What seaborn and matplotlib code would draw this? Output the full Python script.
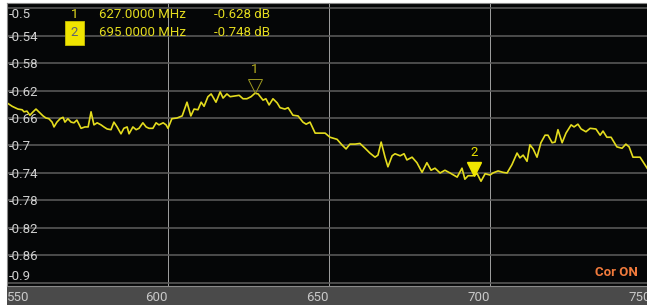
import matplotlib
matplotlib.use("Agg")
import matplotlib.pyplot as plt
from matplotlib.patches import Rectangle
from matplotlib.transforms import offset_copy
import seaborn as sns

# trace (MHz, dB)
freq = [550.0, 551.6, 552.5, 553.4, 554.7, 555.3, 556.2, 557.1, 558.1, 559.0,
        559.9, 561.2, 562.1, 563.0, 564.0, 564.6, 565.5, 566.5, 567.4, 568.0,
        568.9, 569.9, 570.8, 571.7, 573.0, 574.2, 575.2, 576.1, 577.0, 578.0,
        579.2, 580.1, 581.1, 582.3, 583.2, 584.2, 585.4, 586.3, 587.3, 587.9,
        589.1, 590.1, 591.0, 592.2, 593.2, 594.1, 595.3, 596.3, 597.2, 598.5,
        599.4, 600.0, 601.2, 602.8, 604.4, 605.9, 607.1, 608.1, 609.3, 610.3,
        611.2, 612.4, 613.4, 614.9, 616.2, 617.1, 618.3, 619.3, 620.8, 622.1,
        623.3, 624.5, 625.8, 627.0, 628.0, 629.5, 630.4, 631.4, 632.6, 633.9,
        634.8, 636.3, 637.3, 638.8, 640.4, 641.9, 642.9, 644.1, 645.7, 647.2,
        648.8, 650.3, 652.5, 654.0, 655.3, 656.5, 658.1, 659.6, 661.2, 662.7,
        664.3, 665.2, 666.2, 667.4, 668.3, 669.6, 670.5, 672.1, 673.3, 674.2,
        675.8, 677.3, 678.9, 680.4, 681.7, 682.9, 684.5, 686.0, 687.6, 689.8,
        691.3, 692.2, 693.2, 694.7, 696.0, 697.2, 698.5, 700.0, 700.9, 702.5,
        704.0, 705.3, 706.8, 708.4, 709.3, 710.3, 711.5, 712.4, 713.4, 714.6,
        715.8, 717.1, 718.0, 719.3, 720.2, 721.1, 722.4, 723.6, 725.2, 726.1,
        727.3, 728.3, 729.8, 731.1, 732.9, 734.2, 735.1, 736.3, 737.6, 739.4,
        741.0, 742.2, 743.2, 744.4, 746.6, 748.8]
db = [-0.638, -0.643, -0.645, -0.647, -0.648, -0.651, -0.650, -0.656, -0.651, -0.647,
      -0.651, -0.657, -0.660, -0.661, -0.666, -0.673, -0.666, -0.661, -0.659, -0.666,
      -0.661, -0.666, -0.667, -0.663, -0.675, -0.673, -0.673, -0.651, -0.670, -0.667,
      -0.670, -0.673, -0.676, -0.677, -0.666, -0.673, -0.683, -0.675, -0.673, -0.683,
      -0.673, -0.677, -0.675, -0.667, -0.673, -0.675, -0.675, -0.667, -0.670, -0.667,
      -0.670, -0.675, -0.661, -0.660, -0.657, -0.637, -0.657, -0.647, -0.648, -0.637,
      -0.643, -0.629, -0.625, -0.637, -0.622, -0.631, -0.625, -0.629, -0.628, -0.627,
      -0.632, -0.632, -0.629, -0.624, -0.625, -0.634, -0.632, -0.641, -0.632, -0.638,
      -0.645, -0.647, -0.645, -0.656, -0.657, -0.666, -0.669, -0.666, -0.682, -0.682,
      -0.682, -0.688, -0.691, -0.699, -0.705, -0.698, -0.698, -0.697, -0.704, -0.711,
      -0.717, -0.714, -0.695, -0.717, -0.731, -0.715, -0.712, -0.715, -0.712, -0.721,
      -0.717, -0.725, -0.739, -0.725, -0.736, -0.733, -0.740, -0.736, -0.740, -0.746,
      -0.733, -0.749, -0.744, -0.744, -0.741, -0.752, -0.741, -0.743, -0.740, -0.737,
      -0.739, -0.740, -0.728, -0.711, -0.718, -0.714, -0.723, -0.699, -0.705, -0.717,
      -0.696, -0.685, -0.685, -0.696, -0.695, -0.677, -0.696, -0.682, -0.670, -0.673,
      -0.669, -0.676, -0.680, -0.675, -0.676, -0.685, -0.679, -0.688, -0.688, -0.702,
      -0.704, -0.698, -0.702, -0.717, -0.717, -0.733]

# markers
mk_ids = ["1", "2"]
mk_freq = [627.0, 695.0]
mk_db = [-0.628, -0.748]

xticks = [550, 600, 650, 700, 750]
yticks = [-0.5, -0.54, -0.58, -0.62, -0.66, -0.7, -0.74, -0.78, -0.82, -0.86, -0.9]

W, H = 647, 305
YEL = "#e4dc1e"
plt.rcParams["font.family"] = ["Roboto", "DejaVu Sans"]

fig = plt.figure(figsize=(W / 100, H / 100), dpi=100, facecolor="white")
# bottom frequency band
fig.patches.append(Rectangle((7 / W, 0), 1, 18 / H, transform=fig.transFigure,
                             facecolor="#4a4a4a", edgecolor="none", zorder=-5))

ax = fig.add_axes([7 / W, 19 / H, 644 / W, 283 / H])
ax.set_facecolor("#050607")
ax.set_xlim(550, 750)
ax.set_ylim(-0.9044, -0.4927)

ax.set_xticks(xticks)
ax.set_xticklabels([str(v) for v in xticks])
ax.set_yticks(yticks)
ax.set_yticklabels([f"{v:g}" for v in yticks])
ax.tick_params(axis="x", length=0, pad=3.5, labelsize=9.5, colors="#c8c8c8")
ax.tick_params(axis="y", length=0, pad=-1.5, labelsize=9.5, colors="#d0d0d0")
xlabs = ax.get_xticklabels()
for lab in xlabs:
    lab.set_horizontalalignment("right")
xlabs[0].set_horizontalalignment("left")
for lab in ax.get_yticklabels():
    lab.set_horizontalalignment("left")
ylabs = ax.get_yticklabels()
ylabs[0].set_verticalalignment("top")
ylabs[-1].set_verticalalignment("bottom")

ax.grid(axis="y", color="#5e5e5e", linewidth=1.1)
ax.grid(axis="x", color="#a0a0a0", linewidth=0.7)
for s in ax.spines.values():
    s.set_color("#8a8a8a")
    s.set_linewidth(0.8)

sns.lineplot(x=freq, y=db, ax=ax, color=YEL, linewidth=1.2)

# marker triangles with the tip on the trace
up = offset_copy(ax.transData, fig=fig, y=5.5, units="points")
ax.plot(mk_freq[0], mk_db[0] + 0.004, marker="v", markersize=10, transform=up,
        markerfacecolor="none", markeredgecolor="#9c9820", markeredgewidth=0.7,
        linestyle="none")
ax.plot(mk_freq[1], mk_db[1] + 0.003, marker="v", markersize=10, transform=up,
        markerfacecolor="#f0e600", markeredgecolor="#f0e600", linestyle="none")
lab_up = offset_copy(ax.transData, fig=fig, y=17, units="points")
ax.text(mk_freq[0], mk_db[0] + 0.004, mk_ids[0], transform=lab_up, color="#b8b020",
        fontsize=9.5, ha="center", va="center")
ax.text(mk_freq[1], mk_db[1] + 0.003, mk_ids[1], transform=lab_up, color="#e8e000",
        fontsize=9.5, ha="center", va="center")

# marker table
def fx(px):
    return px / W


def fy(py):
    return (H - py) / H


rows_y = [15, 33]
for i, (mid, f, d) in enumerate(zip(mk_ids, mk_freq, mk_db)):
    if i == 1:
        fig.text(fx(74.5), fy(rows_y[i]), mid, color="#5f6470", fontsize=9.5,
                 ha="center", va="center",
                 bbox=dict(boxstyle="square,pad=0.45", facecolor="#f0e400",
                           edgecolor="#c8c000", linewidth=0.6))
    else:
        fig.text(fx(74.5), fy(rows_y[i]), mid, color=YEL, fontsize=9.5,
                 ha="center", va="center")
    fig.text(fx(99), fy(rows_y[i]), f"{f:.4f} MHz", color=YEL, fontsize=9.5,
             ha="left", va="center")
    fig.text(fx(214), fy(rows_y[i]), f"{d:.3f} dB", color=YEL, fontsize=9.5,
             ha="left", va="center")

fig.text(fx(638), fy(273), "Cor ON", color="#f07a3c", fontsize=9.5,
         fontweight="bold", ha="right", va="center")

fig.savefig("out.png", dpi=100, facecolor=fig.get_facecolor())
